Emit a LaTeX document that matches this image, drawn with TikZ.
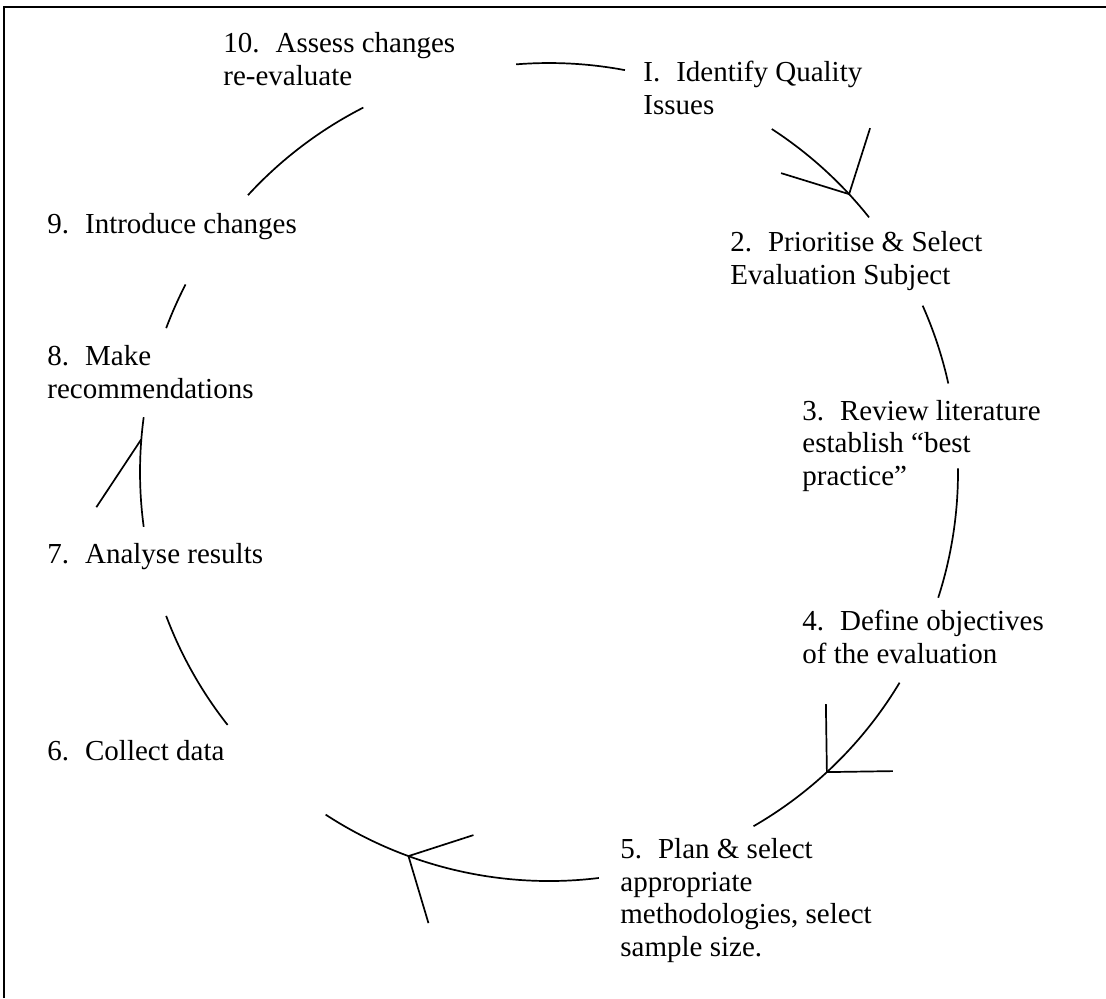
\documentclass[tikz,border=0pt]{standalone}
\usepackage{fontspec}
\setmainfont{Liberation Serif}
\usetikzlibrary{positioning}

\tikzset{
  steplabel/.style={anchor=base west, align=left, inner sep=0pt,
    font=\fontsize{14.5}{16.2}\selectfont},
  cycarc/.style={line width=0.85pt},
  frameline/.style={line width=1.2pt}
}
\newcommand{\numgap}{\hspace{0.55em}}

\begin{document}
\begin{tikzpicture}[x=0.5pt,y=-0.5pt]
  \useasboundingbox (0,0) rectangle (1106,998);
  % frame
  \draw[frameline] (4,998) -- (4,7) -- (1106,7);

  % step labels (placed at the baseline of their last line)
  \node[steplabel] (s10) at (223,85) {10.\numgap Assess changes\\re-evaluate};
  \node[steplabel] (s1) at (643,114) {I.\numgap Identify Quality\\Issues};
  \node[steplabel] (s2) at (730,284) {2.\numgap Prioritise \& Select\\Evaluation Subject};
  \node[steplabel] (s3) at (802,485) {3.\numgap Review literature\\establish “best\\practice”};
  \node[steplabel] (s4) at (802,663) {4.\numgap Define objectives\\of the evaluation};
  \node[steplabel] (s5) at (620,956) {5.\numgap Plan \& select\\appropriate\\methodologies, select\\sample size.};
  \node[steplabel] (s6) at (47,760) {6.\numgap Collect data};
  \node[steplabel] (s7) at (47,563) {7.\numgap Analyse results};
  \node[steplabel] (s8) at (47,398) {8.\numgap Make\\recommendations};
  \node[steplabel] (s9) at (47,233) {9.\numgap Introduce changes};

  % the cycle
  \coordinate (O) at (549,472);
  \def\R{409}
  \draw[cycarc] ([shift={(265.4:\R)}]O) arc[start angle=265.4, end angle=280.7, radius=\R];
  \draw[cycarc] ([shift={(303:\R)}]O) arc[start angle=303, end angle=321.5, radius=\R];
  \draw[cycarc] ([shift={(336:\R)}]O) arc[start angle=336, end angle=347.5, radius=\R];
  \draw[cycarc] ([shift={(359.5:\R)}]O) arc[start angle=359.5, end angle=377.9, radius=\R];
  \draw[cycarc] ([shift={(31:\R)}]O) arc[start angle=31, end angle=60, radius=\R];
  \draw[cycarc] ([shift={(83:\R)}]O) arc[start angle=83, end angle=123.1, radius=\R];
  \draw[cycarc] ([shift={(141.8:\R)}]O) arc[start angle=141.8, end angle=159.4, radius=\R];
  \draw[cycarc] ([shift={(172.3:\R)}]O) arc[start angle=172.3, end angle=187.7, radius=\R];
  \draw[cycarc] ([shift={(200.6:\R)}]O) arc[start angle=200.6, end angle=207.3, radius=\R];
  \draw[cycarc] ([shift={(222.6:\R)}]O) arc[start angle=222.6, end angle=243, radius=\R];

  % arrow heads
  \coordinate (tip1) at ([shift={(317.2:\R)}]O);
  \coordinate (tip2) at ([shift={(47.2:\R)}]O);
  \coordinate (tip3) at ([shift={(110.1:\R)}]O);
  \coordinate (tip4) at ([shift={(184.6:\R)}]O);
  \draw[cycarc] (tip1) -- ++(21,-66) (tip1) -- ++(-68,-21);
  \draw[cycarc] (tip2) -- ++(-1,-68) (tip2) -- ++(66,-1);
  \draw[cycarc] (tip3) -- ++(65,-21) (tip3) -- ++(20,67);
  \draw[cycarc] (tip4) -- ++(-45,68);
\end{tikzpicture}
\end{document}
